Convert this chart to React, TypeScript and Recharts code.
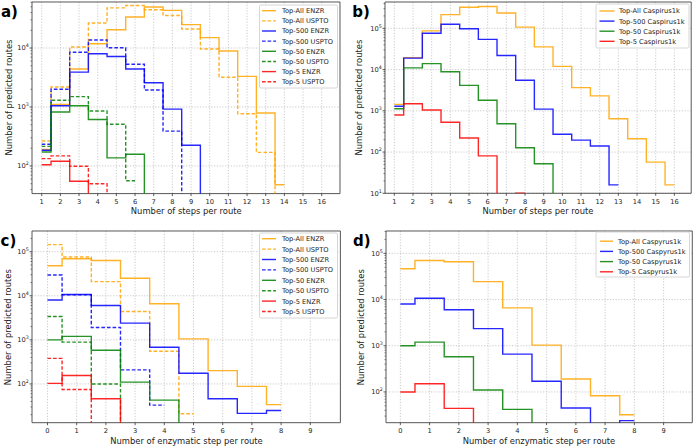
import React from 'react';
import { LineChart, Line, XAxis, YAxis, CartesianGrid, ReferenceArea } from 'recharts';

// ---------- data ----------
// panel a (x = number of steps per route)
const stepsA = [1, 2, 3, 4, 5, 6, 7, 8, 9, 10, 11, 12, 13, 14];
const aAllENZR = [190, 1100, 4400, 11800, 20400, 33500, 49500, 43500, 24900, 15000, 8900, 3300, 790, 48];
const aAllUSPTO = [265, 2180, 10400, 26500, 48000, 52500, 44500, 35500, 21000, 9600, 3200, 770, 170, 0];
const a500ENZR = [185, 1050, 3900, 8000, 7200, 4400, 2580, 920, 225, 0];
const a500USPTO = [233, 2000, 8500, 13700, 10100, 5300, 1940, 390, 0];
const a50ENZR = [172, 820, 1050, 615, 137, 158, 0];
const a50USPTO = [215, 1300, 1500, 855, 510, 56];
const a5ENZR = [105, 120, 55, 0];
const a5USPTO = [133, 148, 99, 50, 0];

// panel b
const stepsB = [1, 2, 3, 4, 5, 6, 7, 8, 9, 10, 11, 12, 13, 14, 15, 16];
const bAll = [1435, 19500, 87000, 215000, 325000, 340000, 235000, 107000, 35500, 12000, 3650, 2300, 640, 210, 57, 16];
const b500 = [1290, 19000, 76000, 126000, 98000, 54000, 22000, 5500, 1100, 270, 195, 140, 16];
const b50 = [1120, 11000, 14000, 8900, 4150, 1800, 485, 127, 52, 0];
const b5 = [790, 1490, 1050, 530, 220, 81, 0, 10];

// panel c (x = number of enzymatic steps per route)
const enzSteps = [0, 1, 2, 3, 4, 5, 6, 7, 8];
const cAllENZR = [48000, 69000, 63000, 25000, 6600, 1050, 200, 88, 34];
const cAllUSPTO = [145000, 76000, 21000, 4400, 550, 21];
const c500ENZR = [8000, 10700, 6000, 2400, 680, 175, 46, 21.5, 25];
const c500USPTO = [29500, 10500, 1900, 208, 33];
const c50ENZR = [1000, 1200, 580, 110, 43, 0];
const c50USPTO = [3400, 890, 100, 0];
const c5ENZR = [103, 155, 46, 0];
const c5USPTO = [380, 75, 0];

// panel d
const dAll = [46500, 70000, 66000, 24500, 6600, 1030, 190, 83, 32];
const d500 = [8000, 10700, 6000, 2350, 660, 170, 45, 20, 24];
const d50 = [1000, 1200, 580, 110, 42, 0];
const d5 = [100, 150, 44, 0];

// tick labels
const xTicksAB = [1, 2, 3, 4, 5, 6, 7, 8, 9, 10, 11, 12, 13, 14, 15, 16];
const xTicksCD = [0, 1, 2, 3, 4, 5, 6, 7, 8, 9];
const yMajorA = [100, 1000, 10000];
const yMajorB = [10, 100, 1000, 10000, 100000];
const yMajorCD = [100, 1000, 10000, 100000];

const ORANGE = '#FFA500';
const BLUE = '#0000FF';
const GREEN = '#008000';
const RED = '#FF0000';
const FONT = 'DejaVu Sans';
const OFF_SCALE = 0.01; // zero counts fall below the log axis

type Series = { name: string; xs: number[]; ys: number[]; color: string; dashed: boolean };

const seriesA: Series[] = [
  { name: 'Top-All ENZR', xs: stepsA, ys: aAllENZR, color: ORANGE, dashed: false },
  { name: 'Top-All USPTO', xs: stepsA, ys: aAllUSPTO, color: ORANGE, dashed: true },
  { name: 'Top-500 ENZR', xs: stepsA, ys: a500ENZR, color: BLUE, dashed: false },
  { name: 'Top-500 USPTO', xs: stepsA, ys: a500USPTO, color: BLUE, dashed: true },
  { name: 'Top-50 ENZR', xs: stepsA, ys: a50ENZR, color: GREEN, dashed: false },
  { name: 'Top-50 USPTO', xs: stepsA, ys: a50USPTO, color: GREEN, dashed: true },
  { name: 'Top-5 ENZR', xs: stepsA, ys: a5ENZR, color: RED, dashed: false },
  { name: 'Top-5 USPTO', xs: stepsA, ys: a5USPTO, color: RED, dashed: true },
];
const seriesB: Series[] = [
  { name: 'Top-All Caspirus1k', xs: stepsB, ys: bAll, color: ORANGE, dashed: false },
  { name: 'Top-500 Caspirus1k', xs: stepsB, ys: b500, color: BLUE, dashed: false },
  { name: 'Top-50 Caspirus1k', xs: stepsB, ys: b50, color: GREEN, dashed: false },
  { name: 'Top-5 Caspirus1k', xs: stepsB, ys: b5, color: RED, dashed: false },
];
const seriesC: Series[] = [
  { name: 'Top-All ENZR', xs: enzSteps, ys: cAllENZR, color: ORANGE, dashed: false },
  { name: 'Top-All USPTO', xs: enzSteps, ys: cAllUSPTO, color: ORANGE, dashed: true },
  { name: 'Top-500 ENZR', xs: enzSteps, ys: c500ENZR, color: BLUE, dashed: false },
  { name: 'Top-500 USPTO', xs: enzSteps, ys: c500USPTO, color: BLUE, dashed: true },
  { name: 'Top-50 ENZR', xs: enzSteps, ys: c50ENZR, color: GREEN, dashed: false },
  { name: 'Top-50 USPTO', xs: enzSteps, ys: c50USPTO, color: GREEN, dashed: true },
  { name: 'Top-5 ENZR', xs: enzSteps, ys: c5ENZR, color: RED, dashed: false },
  { name: 'Top-5 USPTO', xs: enzSteps, ys: c5USPTO, color: RED, dashed: true },
];
const seriesD: Series[] = [
  { name: 'Top-All Caspyrus1k', xs: enzSteps, ys: dAll, color: ORANGE, dashed: false },
  { name: 'Top-500 Caspyrus1k', xs: enzSteps, ys: d500, color: BLUE, dashed: false },
  { name: 'Top-50 Caspyrus1k', xs: enzSteps, ys: d50, color: GREEN, dashed: false },
  { name: 'Top-5 Caspyrus1k', xs: enzSteps, ys: d5, color: RED, dashed: false },
];

// ---------- helpers ----------
function logTicks(domain: [number, number], majors: number[]): number[] {
  const out: number[] = [];
  const all = [...majors, majors[0] / 10, majors[majors.length - 1] * 10];
  all.sort((p, q) => p - q);
  all.forEach((m) => {
    for (let k = 1; k <= 9; k++) {
      const v = m * k;
      if (v >= domain[0] && v <= domain[1]) out.push(v);
    }
  });
  return Array.from(new Set(out)).sort((p, q) => p - q);
}

const XTick = (props: any) => {
  const { x, y, payload } = props;
  return (
    <g>
      <line x1={x} x2={x} y1={y} y2={y + 2.5} stroke="#333" strokeWidth={0.8} />
      <text x={x} y={y + 10.6} textAnchor="middle" fontSize={6.7} fill="#222" fontFamily={FONT}>
        {payload.value}
      </text>
    </g>
  );
};

const YTick = (props: any) => {
  const { x, y, payload } = props;
  const lg = Math.log10(payload.value);
  const e = Math.round(lg);
  const major = Math.abs(lg - e) < 1e-6;
  return (
    <g>
      <line x1={x} x2={x - (major ? 2.5 : 1.5)} y1={y} y2={y} stroke="#333" strokeWidth={major ? 0.8 : 0.6} />
      {major && (
        <text x={x - 3.3} y={y + 2.4} textAnchor="end" fontSize={6.7} fill="#222" fontFamily={FONT}>
          10<tspan dy={-3} fontSize={4.8}>{e}</tspan>
        </text>
      )}
    </g>
  );
};

type Rect = { l: number; t: number; r: number; b: number };

function Panel(p: {
  rect: Rect;
  xDomain: [number, number];
  xTicks: number[];
  yDomain: [number, number];
  yMajor: number[];
  series: Series[];
}) {
  const YW = 30, XH = 30, M = 4;
  const width = p.rect.r - p.rect.l + YW + M;
  const height = p.rect.b - p.rect.t + XH + M;
  const yTicks = logTicks(p.yDomain, p.yMajor);
  return (
    <div style={{ position: 'absolute', left: p.rect.l - YW, top: p.rect.t - M, width, height }}>
      <LineChart width={width} height={height} margin={{ top: M, right: M, bottom: 0, left: 0 }}>
        <CartesianGrid
          stroke="#b5b5b5"
          strokeWidth={0.7}
          strokeDasharray="1.2 1.6"
          horizontalValues={p.yMajor}
          verticalValues={p.xTicks}
        />
        <XAxis
          type="number"
          dataKey="x"
          domain={p.xDomain}
          ticks={p.xTicks}
          allowDataOverflow
          interval={0}
          tickSize={0}
          tickMargin={0}
          tick={XTick}
          axisLine={false}
          tickLine={false}
          height={XH}
        />
        <YAxis
          type="number"
          scale="log"
          domain={p.yDomain}
          ticks={yTicks}
          allowDataOverflow
          interval={0}
          tickSize={0}
          tickMargin={0}
          tick={YTick}
          axisLine={false}
          tickLine={false}
          width={YW}
        />
        {p.series.map((s) => (
          <Line
            key={s.name}
            name={s.name}
            data={s.ys.map((v, i) => ({ x: s.xs[i], y: v > 0 ? v : OFF_SCALE }))}
            dataKey="y"
            type="step"
            stroke={s.color}
            strokeOpacity={0.85}
            strokeWidth={1.4}
            strokeDasharray={s.dashed ? '3.6 2' : undefined}
            dot={false}
            activeDot={false}
            isAnimationActive={false}
          />
        ))}
        <ReferenceArea
          x1={p.xDomain[0]}
          x2={p.xDomain[1]}
          y1={p.yDomain[0]}
          y2={p.yDomain[1]}
          fill="none"
          stroke="#444"
          strokeWidth={0.9}
          ifOverflow="visible"
        />
      </LineChart>
    </div>
  );
}

type LegendGeom = { x0: number; y0: number; x1: number; y1: number; row0: number; dy: number; s0: number; s1: number; tx: number };

function LegendBox({ g, series }: { g: LegendGeom; series: Series[] }) {
  return (
    <g>
      <rect x={g.x0} y={g.y0} width={g.x1 - g.x0} height={g.y1 - g.y0} rx={1.5} fill="#fff" fillOpacity={0.85} stroke="#cccccc" strokeWidth={0.8} />
      {series.map((s, i) => {
        const cy = g.row0 + i * g.dy;
        return (
          <g key={s.name}>
            <line x1={g.s0} x2={g.s1} y1={cy} y2={cy} stroke={s.color} strokeOpacity={0.85} strokeWidth={1.4} strokeDasharray={s.dashed ? '3.6 2' : undefined} />
            <text x={g.tx} y={cy + 2.4} fontSize={6.7} fill="#222" fontFamily={FONT}>{s.name}</text>
          </g>
        );
      })}
    </g>
  );
}

const rectA: Rect = { l: 32.3, t: 1.7, r: 340.3, b: 193.3 };
const rectB: Rect = { l: 384.8, t: 2, r: 691, b: 193.3 };
const rectC: Rect = { l: 32.3, t: 231.3, r: 340.7, b: 423 };
const rectD: Rect = { l: 385.7, t: 231.3, r: 692, b: 423 };

export default function App() {
  const label = { fontFamily: FONT, fontSize: 8.4, fill: '#222' } as const;
  const ylab = (x: number, y: number) => (
    <text x={x} y={y} transform={`rotate(-90 ${x} ${y})`} textAnchor="middle" {...label}>Number of predicted routes</text>
  );
  return (
    <div style={{ position: 'absolute', left: 0, top: 0, width: 695, height: 447, background: '#fff', overflow: 'hidden' }}>
      <Panel rect={rectA} xDomain={[0.48, 16.98]} xTicks={xTicksAB} yDomain={[34, 60300]} yMajor={yMajorA} series={seriesA} />
      <Panel rect={rectB} xDomain={[0.5, 16.9]} xTicks={xTicksAB} yDomain={[10, 436000]} yMajor={yMajorB} series={seriesB} />
      <Panel rect={rectC} xDomain={[-0.53, 10.03]} xTicks={xTicksCD} yDomain={[13.2, 295000]} yMajor={yMajorCD} series={seriesC} />
      <Panel rect={rectD} xDomain={[-0.49, 9.98]} xTicks={xTicksCD} yDomain={[21.6, 305000]} yMajor={yMajorCD} series={seriesD} />
      <svg width={695} height={447} style={{ position: 'absolute', left: 0, top: 0, pointerEvents: 'none' }}>
        <LegendBox g={{ x0: 259.5, y0: 5, x1: 337.5, y1: 88, row0: 10.7, dy: 10.15, s0: 262, s1: 276, tx: 282 }} series={seriesA} />
        <LegendBox g={{ x0: 596, y0: 4, x1: 689, y1: 48, row0: 11, dy: 10.1, s0: 599.5, s1: 614.5, tx: 619 }} series={seriesB} />
        <LegendBox g={{ x0: 259.5, y0: 233, x1: 337.5, y1: 318, row0: 238.7, dy: 10.4, s0: 262, s1: 276, tx: 282 }} series={seriesC} />
        <LegendBox g={{ x0: 596, y0: 232, x1: 689.5, y1: 277, row0: 241.2, dy: 10.2, s0: 600, s1: 613, tx: 618 }} series={seriesD} />

        <text x={186.3} y={214} textAnchor="middle" {...label}>Number of steps per route</text>
        <text x={538} y={214} textAnchor="middle" {...label}>Number of steps per route</text>
        <text x={186.5} y={443.5} textAnchor="middle" {...label}>Number of enzymatic step per route</text>
        <text x={539} y={443.5} textAnchor="middle" {...label}>Number of enzymatic step per route</text>
        {ylab(12.3, 97.5)}
        {ylab(361.8, 97.6)}
        {ylab(11.4, 327.2)}
        {ylab(363.8, 327.2)}

        <text x={1} y={16.7} fontFamily={FONT} fontWeight="bold" fontSize={15} fill="#000">a)</text>
        <text x={352.3} y={17.3} fontFamily={FONT} fontWeight="bold" fontSize={15} fill="#000">b)</text>
        <text x={0.5} y={245.5} fontFamily={FONT} fontWeight="bold" fontSize={15} fill="#000">c)</text>
        <text x={353} y={246} fontFamily={FONT} fontWeight="bold" fontSize={15} fill="#000">d)</text>
      </svg>
    </div>
  );
}
